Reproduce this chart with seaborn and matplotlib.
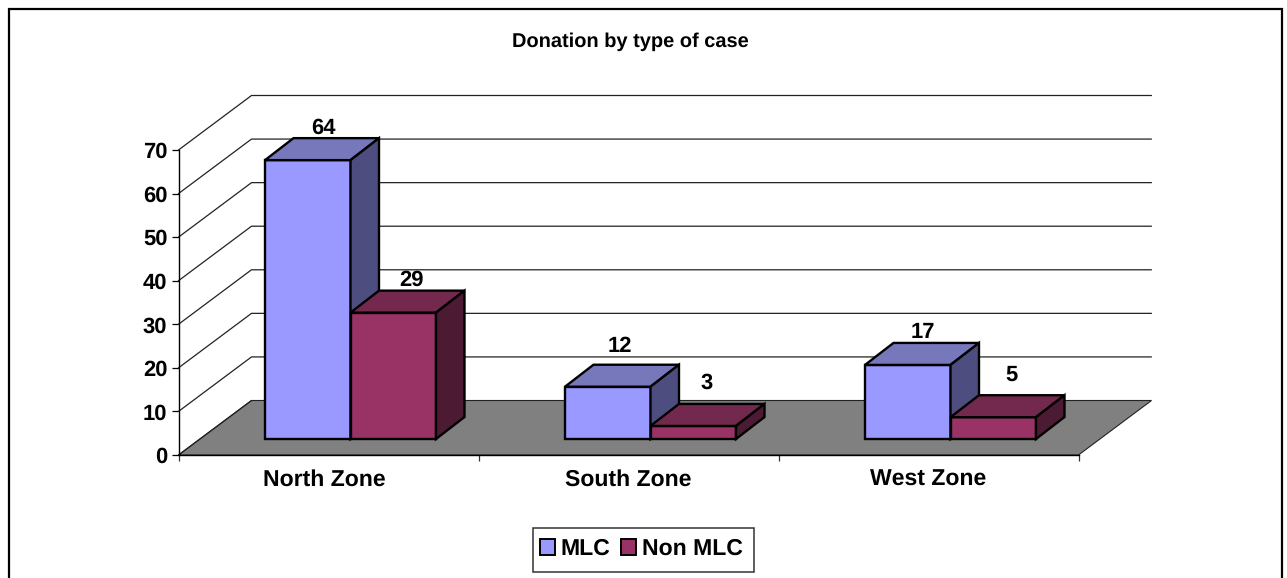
import numpy as np
import pandas as pd
import matplotlib
matplotlib.use("Agg")
import matplotlib.pyplot as plt
import seaborn as sns
from matplotlib.patches import Polygon, Rectangle
from matplotlib.transforms import Affine2D, IdentityTransform

zones = ["North Zone", "South Zone", "West Zone"]
mlc = [64, 12, 17]
non_mlc = [29, 3, 5]
y_ticks = [0, 10, 20, 30, 40, 50, 60, 70]

W, H = 1287, 578

sns.set_theme(style="white")
plt.rcParams["font.family"] = ["Liberation Sans", "DejaVu Sans"]
plt.rcParams["font.weight"] = "bold"
plt.rcParams["text.hinting"] = "no_hinting"
plt.rcParams["text.hinting_factor"] = 1

df = pd.DataFrame({
    "zone": zones * 2,
    "value": mlc + non_mlc,
    "type": ["MLC"] * 3 + ["Non MLC"] * 3,
})

fig = plt.figure(figsize=(W / 100, H / 100), dpi=100, facecolor="white")
# pixel box of the front plane of the 3d chart
ax = fig.add_axes([178.5 / W, (H - 455) / H, 900 / W, 305 / H])
ax.patch.set_alpha(0)

front = {"MLC": "#9999FF", "Non MLC": "#993366"}
top = {"MLC": "#7777BB", "Non MLC": "#73294D"}
side = {"MLC": "#4D4D80", "Non MLC": "#4D1A33"}

sns.barplot(data=df, x="zone", y="value", hue="type", order=zones, palette=front,
            width=0.57, gap=0, saturation=1, edgecolor="black", linewidth=1.4, ax=ax, zorder=5)
ax.set_xlim(-0.5, 2.5)
ax.set_ylim(0, 70)

# depth of the whole chart floor and of one bar, in pixels
WALL = np.array([73, 54.5])
BAR_OFF = np.array([22, 16])
BAR_D = np.array([28.5, 22])

# nudges for the value labels, same order as mlc + non_mlc
label_dx = [1, -2, 0.5, 3.5, -0.5, 4]
label_dy = [10.5, 18, 10.5, 11, 21, 20]


def to_px(x, y):
    return ax.transData.transform((x, y))


def poly(pts, color, z, **kw):
    ax.add_patch(Polygon(pts, closed=True, facecolor=color, transform=IdentityTransform(),
                         clip_on=False, zorder=z, **kw))


# floor
p0, p1 = to_px(-0.5, 0), to_px(2.5, 0)
poly([p0, p1, p1 + WALL, p0 + WALL], "#808080", 1, edgecolor="#222222", linewidth=0.8)

# grid on the side wall and the back wall
for t in y_ticks[1:]:
    a, b = to_px(-0.5, t), to_px(2.5, t)
    ax.plot(*zip(a, a + WALL, b + WALL), color="#222222", lw=0.9, transform=IdentityTransform(),
            clip_on=False, zorder=2)
a = to_px(-0.5, 0)
ax.plot(*zip(a, a + WALL), color="#222222", lw=0.9, transform=IdentityTransform(), clip_on=False, zorder=2)

# 3d faces for every bar, shifted off the front plane
n = len(zones)
bars = [b for b in ax.patches if isinstance(b, Rectangle)][:n * 2]
kinds = ["MLC"] * n + ["Non MLC"] * n
values = mlc + non_mlc
order = sorted(range(len(bars)), key=lambda i: bars[i].get_x())
for z, i in enumerate(order):
    b, kind = bars[i], kinds[i]
    zz = 5 + z * 0.1
    x0, x1, h = b.get_x(), b.get_x() + b.get_width(), b.get_height()
    ll, lr = to_px(x0, 0) + BAR_OFF, to_px(x1, 0) + BAR_OFF
    tl, tr = to_px(x0, h) + BAR_OFF, to_px(x1, h) + BAR_OFF
    b.set_visible(False)
    edge = dict(edgecolor="black", linewidth=1.7, joinstyle="miter")
    poly([ll, lr, tr, tl], front[kind], zz, **edge)
    poly([tl, tr, tr + BAR_D, tl + BAR_D], top[kind], zz, **edge)
    poly([lr, lr + BAR_D, tr + BAR_D, tr], side[kind], zz, **edge)
    mid = (tl + tr) / 2
    ax.text(mid[0] + BAR_D[0] / 2 + label_dx[i], mid[1] + BAR_D[1] + label_dy[i], str(values[i]),
            transform=IdentityTransform(), ha="center", va="center",
            fontsize=16, fontweight="bold", color="black", zorder=9, clip_on=False)

# axes, ticks
sns.despine(ax=ax, top=True, right=True)
for s in ["left", "bottom"]:
    ax.spines[s].set_color("black")
    ax.spines[s].set_linewidth(1.0)
    ax.spines[s].set_zorder(3)
ax.set_xlabel("")
ax.set_ylabel("")
ax.set_yticks(y_ticks)
ax.tick_params(axis="y", left=True, length=5, width=0.9, color="black", labelsize=16, pad=3, labelcolor="black")
ax.set_xticks([-0.5, 0.5, 1.5, 2.5], labels=[])
ax.set_xticks([0, 1, 2], labels=zones, minor=True)
ax.tick_params(axis="x", which="major", bottom=True, length=4.5, width=0.9, color="#333333")
ax.tick_params(axis="x", which="minor", bottom=False, length=0, labelsize=16.4, pad=10, labelcolor="black")
north = ax.xaxis.get_minorticklabels()[0]
north.set_transform(north.get_transform() + Affine2D().translate(-4, 0))

# legend, the box is drawn apart so it can be as tall as the original
sns.move_legend(ax, "center", bbox_to_anchor=(641.5 / W, (H - 549) / H), bbox_transform=fig.transFigure,
                ncol=2, title=None, frameon=False, fontsize=16.6, handlelength=0.65,
                handleheight=0.65, handletextpad=0.25, columnspacing=0.45, borderpad=0, borderaxespad=0)
leg = ax.get_legend()
leg.set_zorder(10)
for t in leg.get_texts():
    t.set_color("black")
    t.set_fontweight("bold")
fig.add_artist(Rectangle((533, H - 572), 221, 44, transform=IdentityTransform(), facecolor="none",
                         edgecolor="#333333", linewidth=1.1))

# outer border, runs off the bottom of the picture
fig.add_artist(Rectangle((8.5, -20), 1273, H - 9 + 20, transform=IdentityTransform(), facecolor="none",
                         edgecolor="black", linewidth=1.6))

fig.text(630 / W, (H - 42) / H, "Donation by type of case", ha="center", va="center", fontsize=14.6,
         fontweight="bold", color="black")

fig.savefig("out.png", dpi=100)
